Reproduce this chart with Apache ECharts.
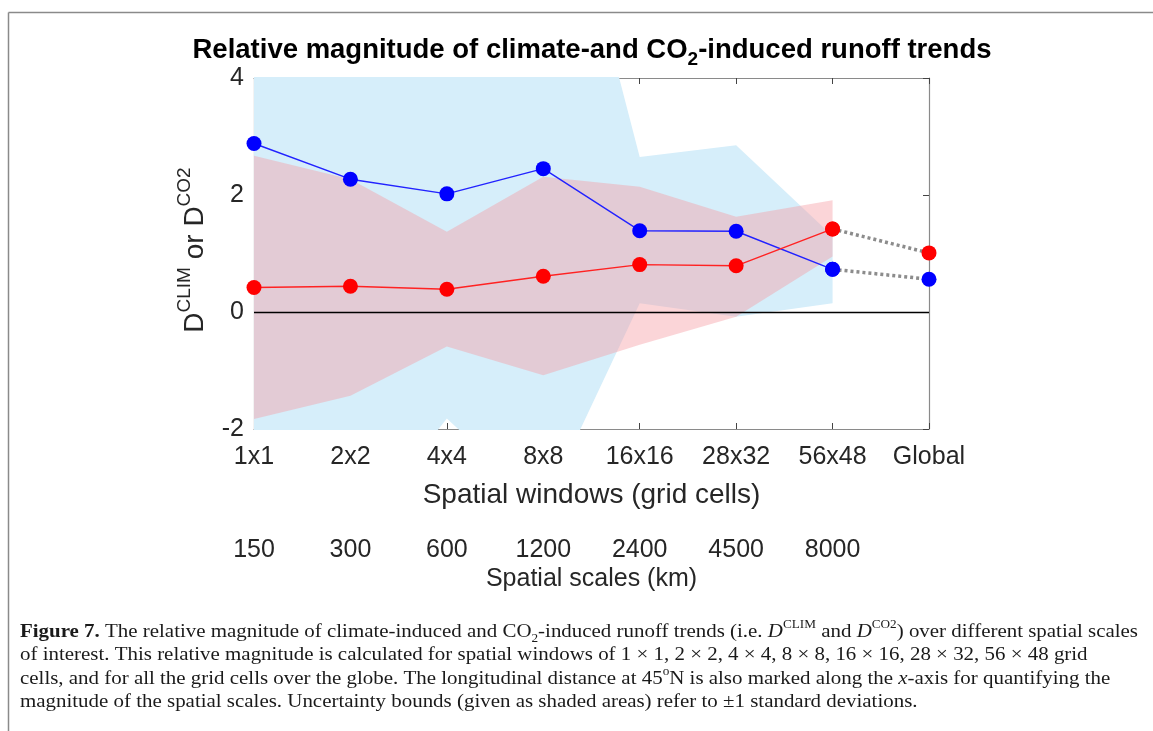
<!DOCTYPE html>
<html><head><meta charset="utf-8">
<script src="https://cdn.jsdelivr.net/npm/echarts@6/dist/echarts.min.js"></script>
<style>html,body{margin:0;padding:0;background:#fff}#c{width:1153px;height:731px}</style>
</head><body><div id="c"></div>
<script>
// ---- data ----
const categories = ['1x1','2x2','4x4','8x8','16x16','28x32','56x48','Global'];
const scalesKm = ['150','300','600','1200','2400','4500','8000',''];
const dClim = [2.88,2.27,2.02,2.45,1.39,1.38,0.73,null];
const dCo2 = [0.42,0.44,0.39,0.61,0.81,0.79,1.42,null];
const dClimGlobal = [null,null,null,null,null,null,0.73,0.56];
const dCo2Global = [null,null,null,null,null,null,1.42,1.01];
const climLower = [-4.0,-3.9,-1.82,-3.35,0.15,-0.08,0.15,null];
const climUpper = [6.0,6.0,6.0,9.0,2.65,2.85,1.30,null];
const co2Lower = [-1.83,-1.43,-0.59,-1.08,-0.56,-0.08,0.95,null];
const co2Upper = [2.67,2.27,1.37,2.31,2.14,1.63,1.91,null];
const yMin = -2, yMax = 4, yStep = 2;

const diff = (u,l) => u.map((v,i)=> (v==null||l[i]==null)?null:+(v-l[i]).toFixed(3));

const SANS = '"Liberation Sans", Arial, sans-serif';
const SERIF = '"Liberation Serif", "Times New Roman", serif';
const axisGray = '#8a8a8a';
const txt = '#262626';

// caption tokens
const capLines = [
  [['b','Figure 7.'],['n',' The relative magnitude of climate-induced and CO'],['sub','2'],['n','-induced runoff trends (i.e. '],['i','D'],['sup','CLIM'],['n',' and '],['i','D'],['sup','CO2'],['n',') over different spatial scales']],
  [['n','of interest. This relative magnitude is calculated for spatial windows of 1 \u00d7 1, 2 \u00d7 2, 4 \u00d7 4, 8 \u00d7 8, 16 \u00d7 16, 28 \u00d7 32, 56 \u00d7 48 grid']],
  [['n','cells, and for all the grid cells over the globe. The longitudinal distance at 45'],['sup','o'],['n','N is also marked along the '],['i','x'],['n','-axis for quantifying the']],
  [['n','magnitude of the spatial scales. Uncertainty bounds (given as shaded areas) refer to \u00b11 standard deviations.']]
];
const capFS = 19;
const capRich = {
  n:{fontFamily:SERIF,fontSize:capFS,lineHeight:26,fill:'#1a1a1a'},
  b:{fontFamily:SERIF,fontSize:capFS,fontWeight:'bold',lineHeight:26,fill:'#1a1a1a'},
  i:{fontFamily:SERIF,fontSize:capFS,fontStyle:'italic',lineHeight:26,fill:'#1a1a1a'},
  sup:{fontFamily:SERIF,fontSize:12,lineHeight:12,verticalAlign:'top',fill:'#1a1a1a'},
  sub:{fontFamily:SERIF,fontSize:12,lineHeight:10,verticalAlign:'bottom',fill:'#1a1a1a'}
};
const cv = document.createElement('canvas').getContext('2d');
function fontOf(k){const r=capRich[k];return (r.fontStyle||'')+' '+(r.fontWeight||'')+' '+r.fontSize+'px '+r.fontFamily;}
function measure(line){let w=0;line.forEach(([k,t])=>{cv.font=fontOf(k);w+=cv.measureText(t).width;});return w;}
const capScale = 1118/measure(capLines[0]);
const capY = [632,655,679,702];
const capGraphics = capLines.map((line,i)=>({
  type:'text', x:20, y:capY[i], scaleX:capScale, silent:true,
  style:{text: line.map(([k,t])=>'{'+k+'|'+t+'}').join(''), rich:capRich, verticalAlign:'middle', align:'left'}
}));

const chart = echarts.init(document.getElementById('c'), null, {renderer:'canvas'});
const option = {
  backgroundColor:'#fff',
  animation:false,
  grid:{left:254, right:224, top:78, bottom:302, containLabel:false},
  xAxis:[
    {type:'category', data:categories, boundaryGap:false, position:'bottom',
     axisLine:{onZero:false,lineStyle:{color:axisGray,width:1.2}},
     axisTick:{inside:true,length:6,lineStyle:{color:'#444'}},
     axisLabel:{color:txt,fontSize:25,fontFamily:SANS,margin:16},
     name:'Spatial windows (grid cells)', nameLocation:'middle', nameGap:52,
     nameTextStyle:{color:txt,fontSize:28,fontFamily:SANS},
     splitLine:{show:false}},
    {type:'category', data:categories, boundaryGap:false, position:'top',
     axisLine:{onZero:false,lineStyle:{color:axisGray,width:1.2}},
     axisTick:{inside:true,length:6,lineStyle:{color:'#444'}},
     axisLabel:{show:false}, splitLine:{show:false}},
    {type:'category', data:scalesKm, boundaryGap:false, position:'bottom', offset:93,
     axisLine:{onZero:false,show:false}, axisTick:{show:false},
     axisLabel:{color:txt,fontSize:25,fontFamily:SANS,margin:16},
     name:'Spatial scales (km)', nameLocation:'middle', nameGap:45,
     nameTextStyle:{color:txt,fontSize:25,fontFamily:SANS},
     splitLine:{show:false}}
  ],
  yAxis:[
    {type:'value', min:yMin, max:yMax, interval:yStep, position:'left',
     axisLine:{show:true,onZero:false,lineStyle:{color:axisGray,width:1.2}},
     axisTick:{show:true,inside:true,length:6,lineStyle:{color:'#444'}},
     axisLabel:{color:txt,fontSize:25,fontFamily:SANS,margin:10},
     splitLine:{show:false}},
    {type:'value', min:yMin, max:yMax, interval:yStep, position:'right',
     axisLine:{show:true,onZero:false,lineStyle:{color:axisGray,width:1.2}},
     axisTick:{show:true,inside:true,length:6,lineStyle:{color:'#444'}},
     axisLabel:{show:false}, splitLine:{show:false}}
  ],
  series:[
    {name:'climBase', type:'line', data:climLower, stack:'clim', stackStrategy:'all',
     symbol:'none', lineStyle:{opacity:0}, silent:true, z:1},
    {name:'climBand', type:'line', data:diff(climUpper,climLower), stack:'clim', stackStrategy:'all',
     symbol:'none', lineStyle:{opacity:0}, areaStyle:{color:'#d6eefa',opacity:1}, silent:true, z:1},
    {name:'co2Base', type:'line', data:co2Lower, stack:'co2', stackStrategy:'all',
     symbol:'none', lineStyle:{opacity:0}, silent:true, z:2},
    {name:'co2Band', type:'line', data:diff(co2Upper,co2Lower), stack:'co2', stackStrategy:'all',
     symbol:'none', lineStyle:{opacity:0}, areaStyle:{color:'rgb(245,154,163)',opacity:0.42}, silent:true, z:2,
     markLine:{silent:true, symbol:'none', label:{show:false},
       lineStyle:{color:'#000',width:1.3,type:'solid'}, data:[{yAxis:0}]}},
    {name:'climGlobal', type:'line', data:dClimGlobal, symbol:'circle', symbolSize:15,
     itemStyle:{color:'#0000ff'}, lineStyle:{color:'#8c8c8c',width:3.5,type:[3,3]}, z:3},
    {name:'co2Global', type:'line', data:dCo2Global, symbol:'circle', symbolSize:15,
     itemStyle:{color:'#ff0000'}, lineStyle:{color:'#8c8c8c',width:3.5,type:[3,3]}, z:3},
    {name:'D_CLIM', type:'line', data:dClim, symbol:'circle', symbolSize:15,
     itemStyle:{color:'#0000ff'}, lineStyle:{color:'#2222ff',width:1.4}, z:4},
    {name:'D_CO2', type:'line', data:dCo2, symbol:'circle', symbolSize:15,
     itemStyle:{color:'#ff0000'}, lineStyle:{color:'#ff2222',width:1.4}, z:4}
  ],
  graphic:[
    {type:'line', silent:true, shape:{x1:8.5,y1:12.5,x2:1153,y2:12.5}, style:{stroke:'#8a8a8a',lineWidth:1.5}},
    {type:'line', silent:true, shape:{x1:8.5,y1:12.5,x2:8.5,y2:731}, style:{stroke:'#8a8a8a',lineWidth:1.5}},
    {type:'text', x:592, y:50, silent:true,
     style:{text:'{t|Relative magnitude of climate-and CO}{s|2}{t|-induced runoff trends}',
       align:'center', verticalAlign:'middle',
       rich:{t:{fontFamily:SANS,fontSize:27.5,fontWeight:'bold',lineHeight:38,fill:'#000'},
             s:{fontFamily:SANS,fontSize:19,fontWeight:'bold',lineHeight:12,verticalAlign:'bottom',fill:'#000'}}}},
    {type:'text', x:195, y:250, rotation:Math.PI/2, silent:true,
     style:{text:'{b|D}{p|CLIM}{b| or D}{p|CO2}', align:'center', verticalAlign:'middle',
       rich:{b:{fontFamily:SANS,fontSize:28,lineHeight:40,fill:txt},
             p:{fontFamily:SANS,fontSize:19,lineHeight:14,verticalAlign:'top',fill:txt}}}}
  ].concat(capGraphics)
};
chart.setOption(option);
</script></body></html>
